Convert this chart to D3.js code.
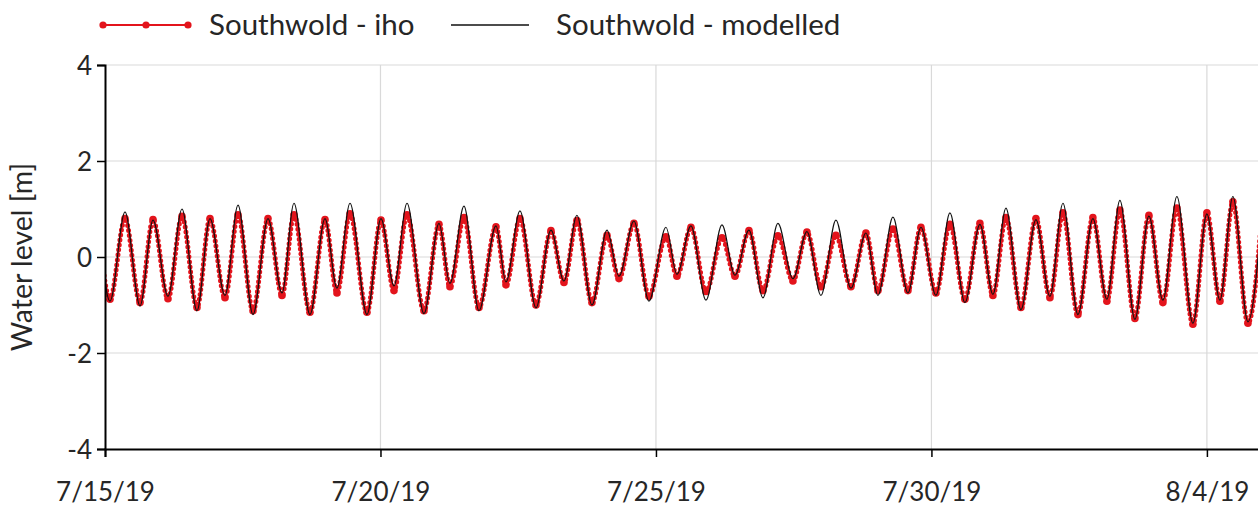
<!DOCTYPE html>
<html>
<head>
<meta charset="utf-8">
<script src="https://cdn.jsdelivr.net/npm/d3@7"></script>
<style>
  html, body { margin: 0; padding: 0; background: #fff; }
  svg { display: block; }
  text { font-family: Lato, "Open Sans", sans-serif; fill: #262626; }
</style>
</head>
<body>
<svg id="chart" width="1258" height="509"></svg>
<script>
// High / low water times (local), Southwold, July–August 2019
const extremaTimes = [
  "2019-07-14 21:00", "2019-07-15 02:10", "2019-07-15 08:43", "2019-07-15 15:15", "2019-07-15 20:55",
  "2019-07-16 03:26", "2019-07-16 09:32", "2019-07-16 16:04", "2019-07-16 21:44",
  "2019-07-17 04:16", "2019-07-17 09:56", "2019-07-17 16:28", "2019-07-17 23:00",
  "2019-07-18 05:06", "2019-07-18 10:19", "2019-07-18 17:17", "2019-07-18 23:50",
  "2019-07-19 05:03", "2019-07-19 10:43", "2019-07-19 18:07",
  "2019-07-20 00:13", "2019-07-20 05:53", "2019-07-20 11:33", "2019-07-20 18:57",
  "2019-07-21 01:29", "2019-07-21 06:16", "2019-07-21 12:22", "2019-07-21 18:54",
  "2019-07-22 02:19", "2019-07-22 06:40", "2019-07-22 12:46", "2019-07-22 19:44",
  "2019-07-23 02:16", "2019-07-23 07:56", "2019-07-23 13:35", "2019-07-23 20:07",
  "2019-07-24 02:40", "2019-07-24 07:53", "2019-07-24 14:25", "2019-07-24 20:57",
  "2019-07-25 04:21", "2019-07-25 09:09", "2019-07-25 15:15", "2019-07-25 21:47",
  "2019-07-26 04:45", "2019-07-26 10:25", "2019-07-26 16:31", "2019-07-26 22:37",
  "2019-07-27 05:08", "2019-07-27 11:40", "2019-07-27 17:46", "2019-07-27 23:52",
  "2019-07-28 06:24", "2019-07-28 12:56", "2019-07-28 19:28",
  "2019-07-29 00:42", "2019-07-29 07:14", "2019-07-29 13:46", "2019-07-29 19:26",
  "2019-07-30 01:58", "2019-07-30 08:04", "2019-07-30 14:35", "2019-07-30 21:07",
  "2019-07-31 02:47", "2019-07-31 08:27", "2019-07-31 14:59", "2019-07-31 21:31",
  "2019-08-01 03:37", "2019-08-01 09:17", "2019-08-01 15:49", "2019-08-01 22:20",
  "2019-08-02 04:26", "2019-08-02 10:06", "2019-08-02 16:38", "2019-08-02 22:44",
  "2019-08-03 04:50", "2019-08-03 10:56", "2019-08-03 17:54",
  "2019-08-04 00:00", "2019-08-04 05:40", "2019-08-04 11:19", "2019-08-04 17:52",
  "2019-08-05 00:00"
];

// Observed (IHO) water level at each high / low water [m]
const ihoLevels = [
  0.75, -0.88, 0.80, -0.95, 0.78,
  -0.87, 0.85, -1.05, 0.80,
  -0.85, 0.88, -1.12, 0.80,
  -0.80, 0.88, -1.15, 0.78,
  -0.75, 0.90, -1.15,
  0.77, -0.70, 0.88, -1.12,
  0.68, -0.62, 0.82, -1.05,
  0.63, -0.58, 0.80, -1.00,
  0.55, -0.53, 0.76, -0.95,
  0.45, -0.45, 0.70, -0.82,
  0.42, -0.40, 0.62, -0.72,
  0.40, -0.40, 0.55, -0.70,
  0.44, -0.50, 0.52, -0.62,
  0.45, -0.62, 0.50,
  -0.70, 0.58, -0.70, 0.62,
  -0.75, 0.68, -0.88, 0.70,
  -0.80, 0.82, -1.05, 0.80,
  -0.85, 0.92, -1.20, 0.82,
  -0.92, 0.98, -1.28, 0.87,
  -0.95, 1.02, -1.40,
  0.92, -0.92, 1.15, -1.38,
  0.90
];

// Modelled water level at the same high / low waters [m]
const modelLevels = [
  0.85, -0.92, 0.94, -1.02, 0.77,
  -0.82, 1.00, -1.12, 0.80,
  -0.80, 1.08, -1.20, 0.80,
  -0.75, 1.12, -1.20, 0.80,
  -0.65, 1.12, -1.20,
  0.80, -0.60, 1.12, -1.18,
  0.70, -0.55, 1.06, -1.12,
  0.65, -0.52, 0.96, -1.06,
  0.56, -0.50, 0.87, -1.00,
  0.56, -0.40, 0.75, -0.92,
  0.62, -0.36, 0.65, -0.90,
  0.67, -0.38, 0.56, -0.85,
  0.70, -0.45, 0.53, -0.80,
  0.77, -0.65, 0.50,
  -0.80, 0.83, -0.75, 0.62,
  -0.80, 0.92, -0.95, 0.68,
  -0.78, 1.02, -1.10, 0.78,
  -0.82, 1.12, -1.20, 0.80,
  -0.88, 1.18, -1.30, 0.85,
  -0.90, 1.26, -1.38,
  0.90, -0.90, 1.26, -1.35,
  0.90
];

const yTickValues = [-4, -2, 0, 2, 4];
const xTickDates = ["2019-07-15", "2019-07-20", "2019-07-25", "2019-07-30", "2019-08-04"];
const xTickLabels = ["7/15/19", "7/20/19", "7/25/19", "7/30/19", "8/4/19"];
const seriesNames = ["Southwold - iho", "Southwold - modelled"];
const yTitle = "Water level [m]";

const parseTime = d3.timeParse("%Y-%m-%d %H:%M");
const parseDay = d3.timeParse("%Y-%m-%d");

const iho = extremaTimes.map((t, i) => ({ t: parseTime(t), v: ihoLevels[i] }));
const model = extremaTimes.map((t, i) => ({ t: parseTime(t), v: modelLevels[i] }));

const W = 1258, H = 509;
const plot = { left: 105, top: 65, bottom: 449, right: 1262 };

const svg = d3.select("#chart");

const x = d3.scaleTime()
  .domain([parseDay("2019-07-15"), parseDay("2019-08-05")])
  .range([plot.left, plot.right]);
const y = d3.scaleLinear().domain([-4, 4]).range([plot.bottom, plot.top]);

// Grid
const grid = svg.append("g").attr("stroke", "#d9d9d9").attr("stroke-width", 1.2);
grid.selectAll("line.h").data(yTickValues.filter(v => v !== -4)).join("line")
  .attr("x1", plot.left).attr("x2", W)
  .attr("y1", d => y(d)).attr("y2", d => y(d));
grid.selectAll("line.v").data(xTickDates.slice(1).map(parseDay)).join("line")
  .attr("x1", d => x(d)).attr("x2", d => x(d))
  .attr("y1", plot.top).attr("y2", plot.bottom);

// Clip to the plotting area
svg.append("clipPath").attr("id", "plotClip").append("rect")
  .attr("x", plot.left).attr("y", 0).attr("width", W - plot.left).attr("height", H);

const line = d3.line().x(d => x(d.t)).y(d => y(d.v)).curve(d3.curveMonotoneX);

const marks = svg.append("g").attr("clip-path", "url(#plotClip)");
const red = "#e3141c";

// Observed series: line with closely spaced round markers
marks.append("path").datum(iho).attr("d", line)
  .attr("fill", "none").attr("stroke", red).attr("stroke-width", 1.8);
marks.append("path").datum(iho).attr("d", line)
  .attr("fill", "none").attr("stroke", red).attr("stroke-width", 5)
  .attr("stroke-linecap", "round").attr("stroke-dasharray", "0 5");
marks.selectAll("circle.obs").data(iho).join("circle")
  .attr("cx", d => x(d.t)).attr("cy", d => y(d.v)).attr("r", 3.8).attr("fill", red);

// Modelled series
marks.append("path").datum(model).attr("d", line)
  .attr("fill", "none").attr("stroke", "#111").attr("stroke-width", 1.2);

// Axes
const yAxis = d3.axisLeft(y).tickValues(yTickValues).tickSize(8).tickFormat(d => String(d));
const gy = svg.append("g").attr("transform", `translate(${plot.left},0)`).call(yAxis);
gy.select(".domain").attr("stroke", "#000").attr("stroke-width", 2);
gy.selectAll(".tick line").attr("stroke", "#000").attr("stroke-width", 1.5);
gy.selectAll(".tick text").attr("x", -13).attr("dy", "0.35em")
  .style("font-size", "26px").style("font-family", "Lato, sans-serif").attr("fill", "#262626");

const xAxis = d3.axisBottom(x).tickValues(xTickDates.map(parseDay)).tickSize(8)
  .tickFormat((d, i) => xTickLabels[i]);
const gx = svg.append("g").attr("transform", `translate(0,${plot.bottom})`).call(xAxis);
gx.select(".domain").attr("stroke", "#000").attr("stroke-width", 2);
gx.selectAll(".tick line").attr("stroke", "#000").attr("stroke-width", 1.5);
gx.selectAll(".tick text").attr("y", 43).attr("dy", "0.35em")
  .style("font-size", "26px").style("font-family", "Lato, sans-serif").attr("fill", "#262626");

// Y axis title
svg.append("text")
  .attr("transform", `translate(32,${(plot.top + plot.bottom) / 2}) rotate(-90)`)
  .attr("text-anchor", "middle")
  .style("font-size", "28.5px")
  .text(yTitle);

// Legend
const lg = svg.append("g");
lg.append("line").attr("x1", 101).attr("x2", 188).attr("y1", 25).attr("y2", 25)
  .attr("stroke", red).attr("stroke-width", 1.8);
lg.selectAll("circle").data([103, 146, 188]).join("circle")
  .attr("cx", d => d).attr("cy", 25).attr("r", 3.6).attr("fill", red);
lg.append("text").attr("x", 209).attr("y", 25).attr("dy", "0.35em")
  .style("font-size", "29.5px").text(seriesNames[0]);
lg.append("line").attr("x1", 451).attr("x2", 529).attr("y1", 25).attr("y2", 25)
  .attr("stroke", "#111").attr("stroke-width", 1.4);
lg.append("text").attr("x", 556).attr("y", 25).attr("dy", "0.35em")
  .style("font-size", "29.5px").text(seriesNames[1]);
</script>
</body>
</html>
